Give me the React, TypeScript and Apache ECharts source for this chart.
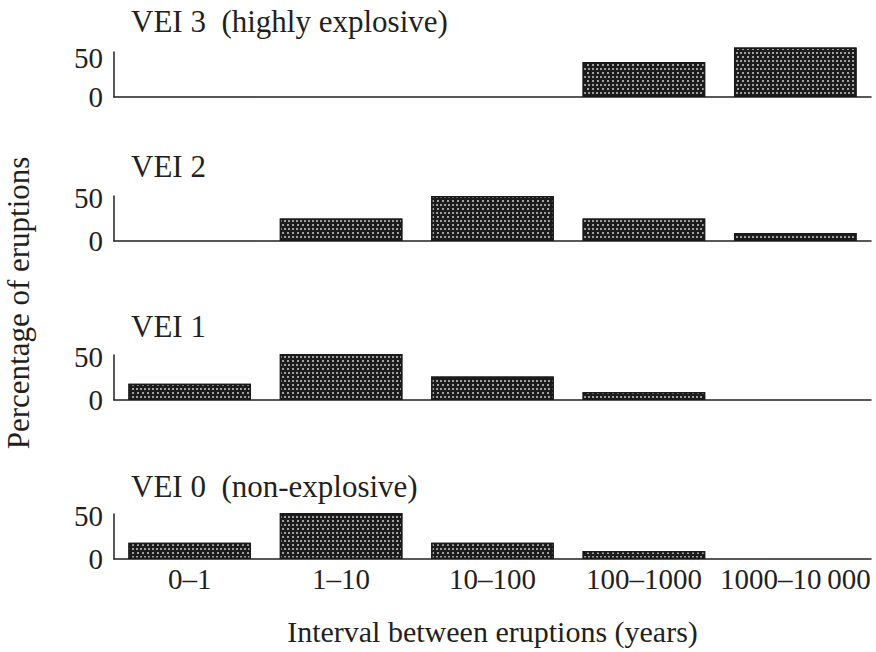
import React, { useEffect, useRef } from "react";
import * as echarts from "echarts";

const categories = ["0–1", "1–10", "10–100", "100–1000", "1000–10\u2009000"];
const panelTitles = ["VEI 3  (highly explosive)", "VEI 2", "VEI 1", "VEI 0  (non-explosive)"];
const vei3 = [0, 0, 0, 39, 55];
const vei2 = [0, 25, 50, 25, 9];
const vei1 = [18, 51, 26, 9, 0];
const vei0 = [18, 51, 18, 9, 0];
const yTicks = [0, 50];
const yAxisTitle = "Percentage of eruptions";
const xAxisTitle = "Interval between eruptions (years)";

const FONT = "'Liberation Serif', 'Times New Roman', serif";
const INK = "#231f20";

export default function App() {
  const ref = useRef<HTMLDivElement>(null);
  useEffect(() => {
    if (!ref.current) return;
    const chart = echarts.init(ref.current, null, { renderer: "svg" });
    const seriesData = [vei3, vei2, vei1, vei0];
    const tops = [52, 196, 355, 514];
    const titleCenters = [22, 167, 327, 487];
    const labelDrop = [12, 4, 4, 4];
    const h = 45;
    const grids = tops.map((t) => ({ left: 114, right: 5, top: t, height: h }));
    const xAxes = tops.map((_, i) => ({
      type: "category",
      gridIndex: i,
      data: categories,
      boundaryGap: true,
      axisLine: { show: true, lineStyle: { color: INK, width: 1.5 } },
      axisTick: { show: false },
      axisLabel: {
        show: i === 3,
        interval: 0,
        fontFamily: FONT,
        fontSize: 29,
        color: INK,
        margin: 5,
      },
      name: i === 3 ? xAxisTitle : "",
      nameLocation: "middle",
      nameGap: 57,
      nameTextStyle: { fontFamily: FONT, fontSize: 30, color: INK },
    }));
    const yAxes = tops.map((_, i) => ({
      type: "value",
      gridIndex: i,
      min: yTicks[0],
      max: yTicks[1],
      interval: yTicks[1] - yTicks[0],
      axisLine: { show: true, lineStyle: { color: INK, width: 1.5 } },
      axisTick: { show: false },
      splitLine: { show: false },
      axisLabel: {
        margin: 11,
        formatter: (v: number) => (v === yTicks[1] ? `{top|${v}}` : `{base|${v}}`),
        rich: {
          top: {
            fontFamily: FONT,
            fontSize: 29,
            color: INK,
            padding: [labelDrop[i], 0, 0, 0],
          },
          base: { fontFamily: FONT, fontSize: 29, color: INK },
        },
      },
    }));
    const series = seriesData.map((d, i) => ({
      type: "bar",
      xAxisIndex: i,
      yAxisIndex: i,
      data: d.map((v) => (v === 0 ? { value: v, itemStyle: { borderWidth: 0 } } : v)),
      barCategoryGap: "19%",
      clip: false,
      itemStyle: {
        color: "#1c1c1c",
        borderColor: "#1a1a1a",
        borderWidth: 1.5,
        decal: {
          symbol: "rect",
          symbolSize: 1,
          color: "rgba(255,255,255,0.58)",
          dashArrayX: [[1.1, 1.3], [0, 1.2, 1.1, 0.1]],
          dashArrayY: [1.1, 1.3],
          rotation: 0,
        },
      },
    }));
    const titles = titleCenters.map((c, i) => ({
      text: panelTitles[i],
      left: 126,
      top: c - 21,
      textStyle: { fontFamily: FONT, fontSize: 31, fontWeight: "normal", color: INK },
    }));
    chart.setOption({
      animation: false,
      backgroundColor: "#ffffff",
      title: titles,
      grid: grids,
      xAxis: xAxes,
      yAxis: yAxes,
      series,
      graphic: [
        {
          type: "text",
          x: 18,
          y: 303,
          rotation: Math.PI / 2,
          style: {
            text: yAxisTitle,
            fontFamily: FONT,
            fontSize: 31,
            fill: INK,
            align: "center",
            verticalAlign: "middle",
          },
        },
      ],
    });
    return () => chart.dispose();
  }, []);
  return (
    <div
      ref={ref}
      style={{ position: "fixed", left: 0, top: 0, width: 876, height: 652, background: "#fff" }}
    />
  );
}
